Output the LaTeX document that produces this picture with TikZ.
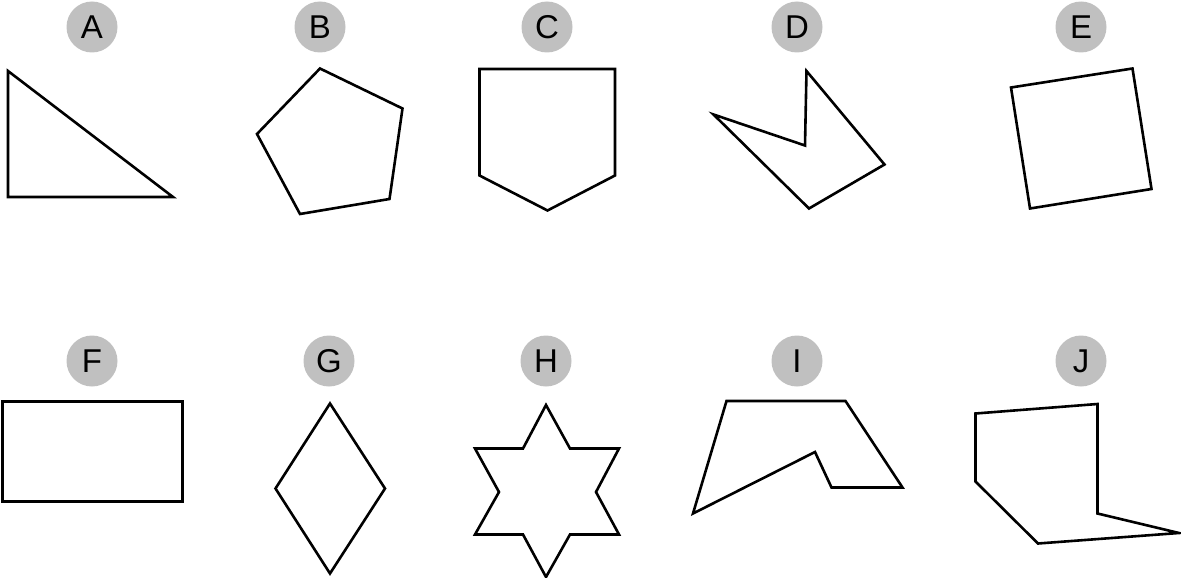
\documentclass[tikz,border=0pt]{standalone}
\usepackage{fontspec}
\setmainfont{Liberation Sans}
\definecolor{labelgray}{HTML}{C0C0C0}
\begin{document}
\begin{tikzpicture}[x=1pt,y=-1pt,
  lbl/.style={circle,fill=labelgray,minimum size=51pt,inner sep=0pt,font=\fontsize{33}{33}\selectfont},
  shp/.style={draw=black,line width=2.6pt}]
\useasboundingbox (0,0) rectangle (1181,578);
% labels
\node[lbl] (la) at (92,27) {A};
\node[lbl] (lb) at (320,27) {B};
\node[lbl] (lc) at (547,27) {C};
\node[lbl] (ld) at (797,27) {D};
\node[lbl] (le) at (1081,27) {E};
\node[lbl] (lf) at (92,361) {F};
\node[lbl] (lg) at (329,361) {G};
\node[lbl] (lh) at (546,361) {H};
\node[lbl] (li) at (797,361) {I};
\node[lbl] (lj) at (1081,361) {J};
% A
\draw[shp] (8,71) -- (8,197) -- (173,197) -- cycle;
% B
\draw[shp] (320,68.5) -- (402.5,108.5) -- (389.5,199) -- (300,214) -- (257,134) -- cycle;
% C
\draw[shp] (479.5,69) -- (615,69) -- (615,175.5) -- (547.5,210.5) -- (479.5,175.5) -- cycle;
% D
\draw[shp] (713.5,114.5) -- (805,145.5) -- (806.5,71) -- (884.5,164.5) -- (809,208.5) -- cycle;
% E
\draw[shp] (1011,87.5) -- (1132.5,68.5) -- (1151.5,189) -- (1030,208.5) -- cycle;
% F
\draw[shp] (2.5,401.5) rectangle (182.5,501.5);
% G
\draw[shp] (330,403.5) -- (385,488.5) -- (330,573.5) -- (275.5,488.5) -- cycle;
% H
\draw[shp] (546,405) -- (570,448.5) -- (619,448.5) -- (596,492) -- (619,534.5) -- (570,534.5)
  -- (546,577) -- (523,534.5) -- (475,534.5) -- (499,492) -- (475,448.5) -- (523,448.5) -- cycle;
% I
\draw[shp] (726.5,401) -- (845.5,401) -- (902.5,487.5) -- (831.5,487.5) -- (815,452) -- (693,513.5) -- cycle;
% J
\draw[shp] (975.5,413.5) -- (1097.5,404) -- (1097.5,513.5) -- (1179,533) -- (1038,543.5) -- (975.5,481.5) -- cycle;
\end{tikzpicture}
\end{document}
